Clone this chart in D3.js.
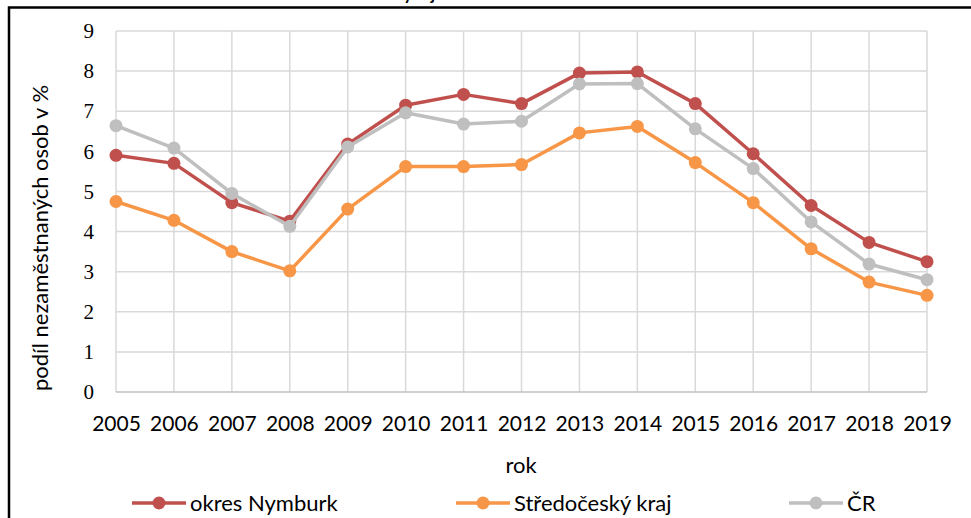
<!DOCTYPE html>
<html>
<head>
<meta charset="utf-8">
<script src="https://cdn.jsdelivr.net/npm/d3@7"></script>
<style>
  body { margin: 0; background: #fff; }
  svg { display: block; font-family: Lato, "Open Sans", sans-serif; }
</style>
</head>
<body>
<svg id="chart" width="971" height="518"></svg>
<script>
// data
var years = ["2005", "2006", "2007", "2008", "2009", "2010", "2011", "2012", "2013", "2014", "2015", "2016", "2017", "2018", "2019"];
var nymburk = [5.9, 5.7, 4.72, 4.26, 6.18, 7.15, 7.42, 7.19, 7.95, 7.98, 7.19, 5.94, 4.65, 3.73, 3.25];
var stredocesky = [4.75, 4.28, 3.5, 3.02, 4.56, 5.62, 5.62, 5.67, 6.46, 6.62, 5.72, 4.72, 3.57, 2.74, 2.41];
var cr = [6.64, 6.08, 4.95, 4.13, 6.11, 6.96, 6.68, 6.75, 7.68, 7.69, 6.56, 5.57, 4.24, 3.19, 2.8];
var yTicks = [0, 1, 2, 3, 4, 5, 6, 7, 8, 9];
var seriesNames = ["okres Nymburk", "Středočeský kraj", "ČR"];
var seriesColors = ["#c0504d", "#f79646", "#bfbfbf"];

var margin = {top: 31, right: 44, bottom: 126, left: 116},
    width = 971 - margin.left - margin.right,
    height = 518 - margin.top - margin.bottom;

var svg = d3.select("#chart");

// title, almost entirely cut off by the top edge
svg.append("text")
    .attr("x", 392)
    .attr("y", -0.5)
    .attr("font-size", "17px")
    .attr("font-weight", "bold")
    .attr("fill", "#000")
    .text("Vývoj nezaměstnanosti");

// frame of the chart area (runs off the right and bottom edge)
svg.append("rect")
    .attr("x", 9)
    .attr("y", 7.5)
    .attr("width", 1000)
    .attr("height", 600)
    .attr("fill", "#fff")
    .attr("stroke", "#000")
    .attr("stroke-width", 2.5);

var g = svg.append("g")
    .attr("transform", "translate(" + margin.left + "," + margin.top + ")");

var x = d3.scalePoint()
    .domain(years)
    .range([0, width]);

var y = d3.scaleLinear()
    .domain([0, 9])
    .range([height, 0]);

// gridlines
g.append("g")
    .attr("class", "grid-y")
  .selectAll("line")
    .data(yTicks.filter(function(d) { return d > 0; }))
  .enter().append("line")
    .attr("x1", 0)
    .attr("x2", width)
    .attr("y1", function(d) { return y(d); })
    .attr("y2", function(d) { return y(d); })
    .attr("stroke", "#d9d9d9")
    .attr("stroke-width", 1.5);

g.append("g")
    .attr("class", "grid-x")
  .selectAll("line")
    .data(years)
  .enter().append("line")
    .attr("x1", function(d) { return x(d); })
    .attr("x2", function(d) { return x(d); })
    .attr("y1", 0)
    .attr("y2", height)
    .attr("stroke", "#d9d9d9")
    .attr("stroke-width", 1.5);

// baseline
g.append("line")
    .attr("x1", 0)
    .attr("x2", width)
    .attr("y1", y(0))
    .attr("y2", y(0))
    .attr("stroke", "#bfbfbf")
    .attr("stroke-width", 1.5);

// axes (labels only)
var yAxis = g.append("g")
    .call(d3.axisLeft(y).tickValues(yTicks).tickSize(0).tickPadding(22));
yAxis.select(".domain").remove();
yAxis.selectAll("text")
    .attr("font-family", "'Liberation Serif', serif")
    .attr("font-size", "21px")
    .attr("fill", "#000");

var xAxis = g.append("g")
    .attr("transform", "translate(0," + height + ")")
    .call(d3.axisBottom(x).tickSize(0).tickPadding(24));
xAxis.select(".domain").remove();
xAxis.selectAll("text")
    .attr("font-family", "Lato, sans-serif")
    .attr("font-size", "21px")
    .attr("fill", "#000");

// axis titles
svg.append("text")
    .attr("transform", "translate(48," + 238 + ") rotate(-90)")
    .attr("text-anchor", "middle")
    .attr("font-size", "22px")
    .attr("fill", "#000")
    .text("podíl nezaměstnaných osob v %");

svg.append("text")
    .attr("x", 521)
    .attr("y", 473)
    .attr("text-anchor", "middle")
    .attr("font-size", "22px")
    .attr("fill", "#000")
    .text("rok");

// series
var series = [nymburk, stredocesky, cr].map(function(values, i) {
  return {name: seriesNames[i], color: seriesColors[i], values: values};
});

var line = d3.line()
    .x(function(d, i) { return x(years[i]); })
    .y(function(d) { return y(d); });

var sg = g.selectAll(".series")
    .data(series)
  .enter().append("g")
    .attr("class", "series");

sg.append("path")
    .attr("d", function(d) { return line(d.values); })
    .attr("fill", "none")
    .attr("stroke", function(d) { return d.color; })
    .attr("stroke-width", 3.5)
    .attr("stroke-linejoin", "round");

sg.selectAll("circle")
    .data(function(d) { return d.values.map(function(v) { return {v: v, color: d.color}; }); })
  .enter().append("circle")
    .attr("cx", function(d, i) { return x(years[i]); })
    .attr("cy", function(d) { return y(d.v); })
    .attr("r", 6.5)
    .attr("fill", function(d) { return d.color; });

// legend
var legendX = [132, 456, 789];
var legend = svg.selectAll(".legend")
    .data(series)
  .enter().append("g")
    .attr("class", "legend")
    .attr("transform", function(d, i) { return "translate(" + legendX[i] + ",503)"; });

legend.append("line")
    .attr("x1", 0)
    .attr("x2", 54)
    .attr("stroke", function(d) { return d.color; })
    .attr("stroke-width", 3.5);

legend.append("circle")
    .attr("cx", 27)
    .attr("r", 6.5)
    .attr("fill", function(d) { return d.color; });

legend.append("text")
    .attr("x", 58)
    .attr("dy", "0.35em")
    .attr("font-size", "22px")
    .attr("fill", "#000")
    .text(function(d) { return d.name; });
</script>
</body>
</html>
